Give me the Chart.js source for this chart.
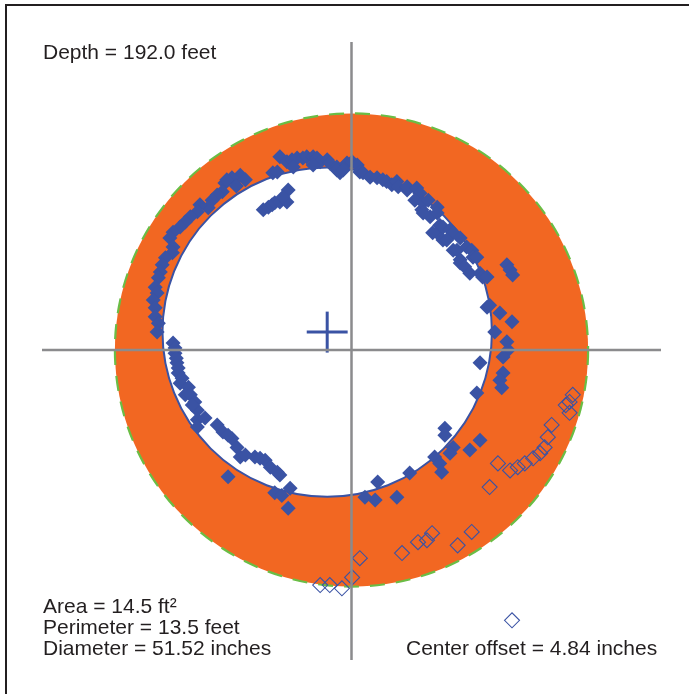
<!DOCTYPE html>
<html>
<head>
<meta charset="utf-8">
<script src="https://cdn.jsdelivr.net/npm/chart.js@4"></script>
<style>
  body { margin: 0; background: #fff; }
</style>
</head>
<body>
<canvas id="caliper" width="689" height="694"></canvas>
<script>
// all positions in inches, origin at the survey axis crossing
const depthFeet = 192.0;
const areaSqFt = 14.5;
const perimeterFeet = 13.5;
const diameterInches = 51.52;
const centerOffsetInches = 4.84;
const outerDiameter = 74.0;
const holeCenter = [-3.8, 2.8];
const axisX = [-48.4, 48.4];
const axisY = [-48.4, 48.1];
const crossHalf = 3.2;

// caliper arm readings that land on / around the wall
const wallPoints = [
  [-12.3,27.7],[-11.6,27.8],[-11.2,30.2],[-10.1,29.4],[-9.3,29.7],[-8.5,30.0],[-7.6,30.0],[-7.0,30.2],
  [-6.0,30.2],[-5.4,30.0],[-4.9,29.4],[-3.8,29.7],[-3.4,29.2],[-2.3,28.6],[-1.8,27.7],[-2.3,28.1],
  [-0.7,29.2],[0.1,29.4],[0.9,28.9],[-1.3,28.1],[-9.1,28.6],[-6.0,28.9],
  [1.3,27.8],[1.8,27.7],[2.9,27.0],[4.0,26.9],[4.9,26.6],[5.5,26.3],[6.3,25.8],[7.1,26.3],
  [7.3,25.5],[8.7,25.0],[8.7,25.5],[10.2,25.3],[10.7,24.5],[9.9,23.4],[11.0,21.9],[11.2,23.0],
  [12.0,23.4],[12.3,20.8],[11.2,21.4],[13.4,22.3],[13.4,21.4],[13.4,18.3],[13.8,19.5],[14.3,17.2],
  [12.7,18.3],[14.3,19.2],[15.4,18.8],[15.9,15.6],[15.9,18.3],[14.9,17.2],[16.5,15.6],[17.0,17.5],
  [17.0,14.1],[17.0,13.6],[17.7,13.0],[18.0,16.1],[18.8,15.6],[19.0,14.5],[19.6,14.5],[18.5,12.0],
  [20.1,12.0],[20.5,11.4],[21.2,11.4],[24.3,13.3],[24.8,12.5],[25.2,11.7],
  [21.2,6.7],[21.6,7.0],[23.2,5.8],[25.1,4.4],[22.4,2.8],[24.3,1.3],[24.5,0.0],[23.7,-1.1],
  [20.1,-2.0],[23.7,-3.6],[23.2,-4.7],[23.5,-5.9],[19.6,-6.7],
  [14.6,-12.2],[14.6,-13.3],[20.1,-14.1],[18.5,-15.6],[15.9,-15.2],[15.4,-16.1],[13.0,-16.7],[13.8,-17.7],
  [14.1,-19.1],[9.1,-19.2],[4.1,-20.6],[2.1,-23.0],[3.7,-23.4],[7.1,-23.0],
  [-27.9,1.1],[-27.6,-0.5],[-27.3,-2.0],[-27.1,-3.6],[-26.8,-5.2],[-25.5,-5.8],[-26.0,-7.0],[-24.5,-8.1],
  [-24.1,-9.4],[-24.1,-10.9],[-24.1,-12.0],[-21.0,-11.7],[-20.1,-12.8],[-18.7,-13.8],[-17.9,-15.2],[-17.4,-16.7],
  [-15.1,-16.7],[-13.5,-17.2],[-12.7,-18.3],[-11.6,-19.1],[-11.2,-19.5],[-19.3,-19.8],[-12.0,-22.3],[-10.9,-22.7],
  [-9.6,-21.6],[-9.9,-24.7],
  [-27.6,0.3],[-27.4,-1.3],[-27.1,-2.8],[-26.5,-4.4],[-25.2,-7.0],[-24.9,-8.6],[-22.9,-10.6],[-19.3,-13.3],
  [-16.6,-16.4],[-14.3,-16.9],
  [-17.4,27.3],[-18.7,26.9],[-19.8,26.1],[-20.2,24.7],[-21.0,24.2],[-21.8,23.4],[-22.4,22.2],[-23.7,22.7],
  [-24.1,21.6],[-25.2,20.8],[-26.0,20.0],[-26.8,19.2],[-27.9,18.4],[-28.4,17.5],[-27.9,16.1],[-28.0,15.2],
  [-29.1,14.4],[-29.6,13.3],[-29.9,12.2],[-30.2,11.3],[-30.7,9.8],[-30.4,8.9],[-31.0,7.8],[-30.7,6.6],
  [-30.7,5.2],[-30.2,4.2],[-30.4,2.8],[-19.5,26.6],[-18.0,25.6],[-16.6,26.6],
  [-13.8,21.9],[-13.0,22.3],[-12.4,22.7],[-12.0,23.0],[-11.2,23.1],[-10.1,23.1],[-9.9,25.0],[-10.7,23.9]
];

// readings flagged outside the fitted section
const outsidePoints = [
  [34.6,-7.0],[34.1,-8.1],[34.1,-9.8],[33.5,-8.6],[31.3,-11.7],[30.7,-13.6],[30.2,-15.2],[29.5,-16.1],
  [28.4,-16.9],[27.1,-17.7],[26.0,-18.3],[24.8,-18.8],[22.9,-17.7],[21.6,-21.4],[18.8,-28.4],[16.6,-30.5],
  [12.6,-28.6],[11.8,-29.7],[10.4,-30.0],[7.9,-31.7],[1.3,-32.5],[0.1,-35.5],[-1.5,-37.2],[-3.4,-36.7],
  [-4.9,-36.7],[25.1,-42.2]
];

const BLUE = '#3a53a4';
const ORANGE = '#f26722';
const GREEN = '#6abd45';
const GREY = '#8b8b8d';
const INK = '#231f20';

const toXY = arr => arr.map(p => ({x: p[0], y: p[1]}));

const ringPlugin = {
  id: 'ring',
  beforeDraw(chart) {
    const ctx = chart.ctx;
    ctx.save();
    ctx.strokeStyle = INK;
    ctx.lineWidth = 2;
    ctx.strokeRect(6, 5, 900, 900);
    ctx.restore();
  },
  beforeDatasetsDraw(chart) {
    const {ctx, scales: {x, y}} = chart;
    const ox = x.getPixelForValue(0), oy = y.getPixelForValue(0);
    const oR = x.getPixelForValue(outerDiameter / 2) - ox;
    const hx = x.getPixelForValue(holeCenter[0]), hy = y.getPixelForValue(holeCenter[1]);
    const hR = x.getPixelForValue(holeCenter[0] + diameterInches / 2) - hx;
    ctx.save();
    ctx.beginPath();
    ctx.arc(ox, oy, oR, 0, Math.PI * 2);
    ctx.fillStyle = ORANGE;
    ctx.fill();
    ctx.setLineDash([15, 11]);
    ctx.lineWidth = 2.2;
    ctx.strokeStyle = GREEN;
    ctx.stroke();
    ctx.setLineDash([]);
    ctx.beginPath();
    ctx.arc(hx, hy, hR, 0, Math.PI * 2);
    ctx.fillStyle = '#fff';
    ctx.fill();
    ctx.lineWidth = 2;
    ctx.strokeStyle = BLUE;
    ctx.stroke();
    ctx.restore();
  },
  afterDraw(chart) {
    const ctx = chart.ctx;
    ctx.save();
    ctx.fillStyle = INK;
    ctx.font = '21px "Liberation Sans", Arial, sans-serif';
    ctx.textBaseline = 'alphabetic';
    ctx.fillText('Depth = ' + depthFeet.toFixed(1) + ' feet', 43, 59);
    ctx.fillText('Area = ' + areaSqFt.toFixed(1) + ' ft²', 43, 613);
    ctx.fillText('Perimeter = ' + perimeterFeet.toFixed(1) + ' feet', 43, 634);
    ctx.fillText('Diameter = ' + diameterInches.toFixed(2) + ' inches', 43, 655);
    ctx.fillText('Center offset = ' + centerOffsetInches.toFixed(2) + ' inches', 406, 655);
    ctx.restore();
  }
};

const lineSet = (pts, color, width) => ({
  type: 'line',
  data: toXY(pts),
  borderColor: color,
  borderWidth: width,
  pointRadius: 0,
  showLine: true,
  fill: false
});

new Chart(document.getElementById('caliper'), {
  type: 'scatter',
  data: {
    datasets: [
      lineSet([[axisX[0], 0], [axisX[1], 0]], GREY, 2.5),
      lineSet([[0, axisY[1]], [0, axisY[0]]], GREY, 2.5),
      lineSet([[holeCenter[0] - crossHalf, holeCenter[1]], [holeCenter[0] + crossHalf, holeCenter[1]]], BLUE, 3),
      lineSet([[holeCenter[0], holeCenter[1] - crossHalf], [holeCenter[0], holeCenter[1] + crossHalf]], BLUE, 3),
      {
        data: toXY(wallPoints),
        pointStyle: 'rectRot',
        pointRadius: 7.5,
        backgroundColor: BLUE,
        borderColor: BLUE,
        borderWidth: 0
      },
      {
        data: toXY(outsidePoints),
        pointStyle: 'rectRot',
        pointRadius: 7.5,
        backgroundColor: 'rgba(0,0,0,0)',
        borderColor: BLUE,
        borderWidth: 1.1
      }
    ]
  },
  options: {
    responsive: false,
    animation: false,
    layout: { padding: { left: 42, right: 28, top: 42, bottom: 34 } },
    scales: {
      x: { type: 'linear', min: axisX[0], max: axisX[1], display: false },
      y: { type: 'linear', min: axisY[0], max: axisY[1], display: false }
    },
    plugins: { legend: { display: false }, tooltip: { enabled: false } }
  },
  plugins: [ringPlugin]
});
</script>
</body>
</html>
